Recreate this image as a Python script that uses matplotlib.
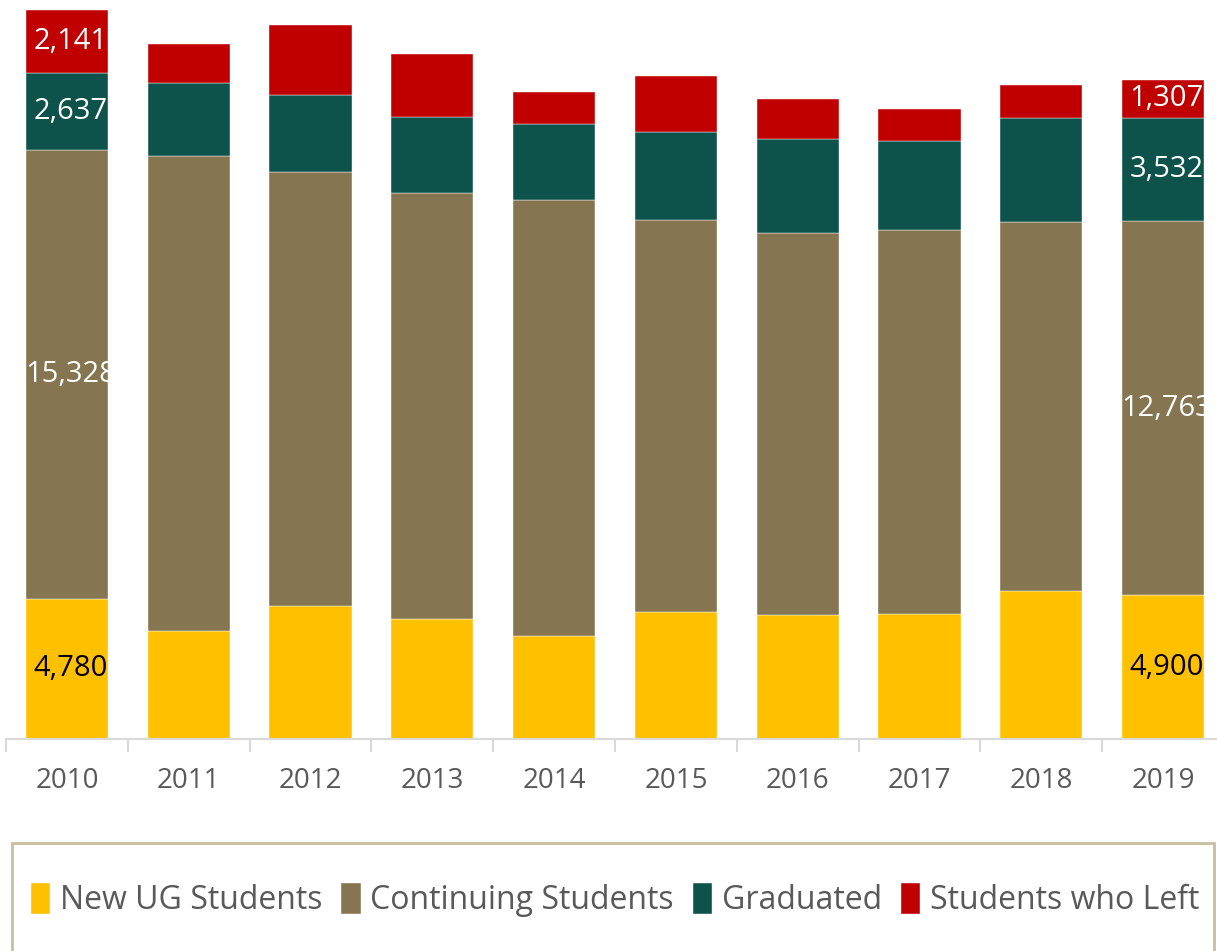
import matplotlib.pyplot as plt
from matplotlib.patches import Rectangle

years = ['2010', '2011', '2012', '2013', '2014', '2015', '2016', '2017', '2018', '2019']
new_ug = [4780, 3690, 4540, 4100, 3520, 4330, 4230, 4270, 5050, 4900]
continuing = [15328, 16210, 14810, 14540, 14880, 13380, 13040, 13110, 12590, 12763]
graduated = [2637, 2490, 2630, 2590, 2590, 3000, 3210, 3040, 3550, 3532]
left = [2141, 1330, 2390, 2150, 1090, 1910, 1370, 1090, 1130, 1307]

series_names = ['New UG Students', 'Continuing Students', 'Graduated', 'Students who Left']
colors = ['#FFC000', '#857550', '#0E534B', '#C00000']
label_colors = ['black', 'white', 'white', 'white']
labelled_years = ['2010', '2019']

plt.rcParams['font.family'] = ['Open Sans', 'DejaVu Sans']

fig = plt.figure(figsize=(12.17, 9.51), dpi=100)
ax = fig.add_axes([6 / 1217, 212 / 951, 1218 / 1217, 739 / 951])

x = list(range(len(years)))
bottom = [0] * len(years)
handles = []
for vals, name, col, lcol in zip([new_ug, continuing, graduated, left], series_names, colors, label_colors):
    bars = ax.bar(x, vals, width=0.675, bottom=bottom, color=col, label=name,
                  edgecolor='white', linewidth=0.3)
    handles.append(bars)
    for i, b in enumerate(bars):
        if years[i] in labelled_years:
            t = ax.text(x[i] + 0.03, bottom[i] + vals[i] / 2, f'{vals[i]:,}',
                        ha='center', va='center', color=lcol, fontsize=21)
            t.set_clip_path(b)
    bottom = [a + v for a, v in zip(bottom, vals)]

ax.set_xlim(-0.5, len(years) - 0.5)
ax.set_ylim(0, 25220)
ax.set_yticks([])
for s in ['left', 'right', 'top']:
    ax.spines[s].set_visible(False)
ax.spines['bottom'].set_color('#D9D9D9')
ax.spines['bottom'].set_linewidth(1.5)

ax.set_xticks(x)
ax.set_xticklabels(years, fontsize=20, color='#595959')
ax.tick_params(axis='x', which='major', length=0, pad=20)
ax.set_xticks([i - 0.5 for i in range(len(years) + 1)], minor=True)
ax.tick_params(axis='x', which='minor', length=9, width=1.5, color='#D9D9D9')

box = Rectangle((12 / 1217, -0.01), 1202 / 1217, (951 - 843) / 951 + 0.01,
                transform=fig.transFigure, fill=False, edgecolor='#C8BE9E', linewidth=2)
fig.patches.append(box)

leg = fig.legend(handles, series_names, loc='center left', bbox_to_anchor=(31 / 1217, (951 - 900) / 951),
                 ncol=4, frameon=False, fontsize=23, handlelength=0.6, handleheight=1.1,
                 handletextpad=0.3, columnspacing=0.6, borderpad=0, borderaxespad=0)
for txt in leg.get_texts():
    txt.set_color('#595959')

fig.savefig('out.png', dpi=100)
